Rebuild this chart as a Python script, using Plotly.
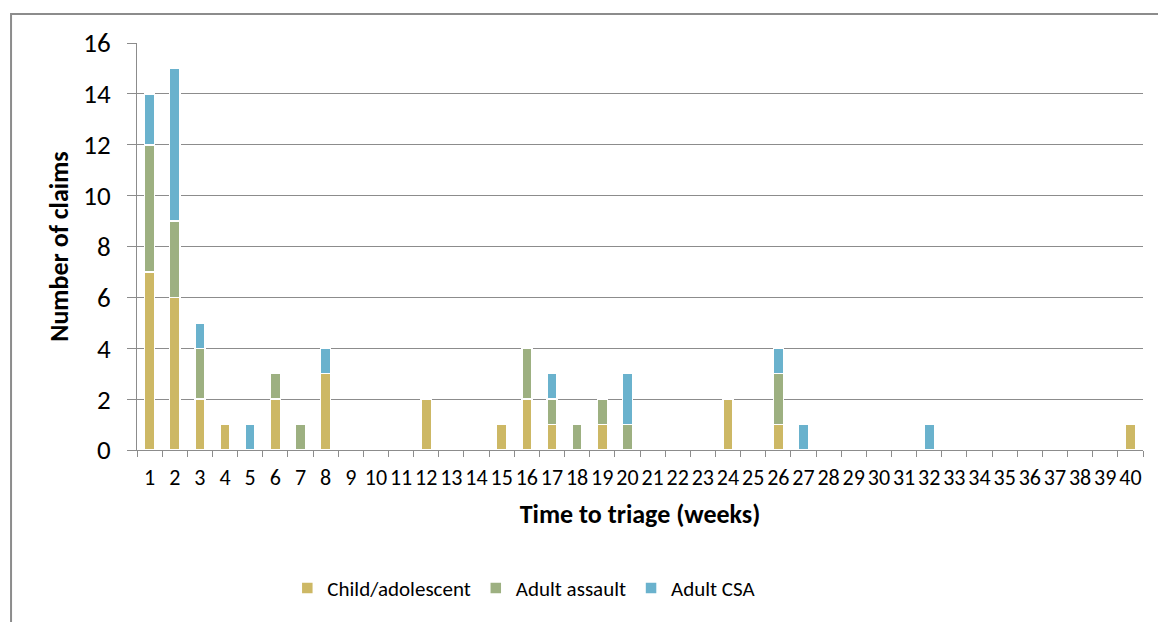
import plotly.graph_objects as go

weeks = [str(i) for i in range(1, 41)]
# values per week 1..40
child_adolescent = [7, 6, 2, 1, 0, 2, 0, 3, 0, 0, 0, 2, 0, 0, 1, 2, 1, 0, 1, 0,
                    0, 0, 0, 2, 0, 1, 0, 0, 0, 0, 0, 0, 0, 0, 0, 0, 0, 0, 0, 1]
adult_assault = [5, 3, 2, 0, 0, 1, 1, 0, 0, 0, 0, 0, 0, 0, 0, 2, 1, 1, 1, 1,
                 0, 0, 0, 0, 0, 2, 0, 0, 0, 0, 0, 0, 0, 0, 0, 0, 0, 0, 0, 0]
adult_csa = [2, 6, 1, 0, 1, 0, 0, 1, 0, 0, 0, 0, 0, 0, 0, 0, 1, 0, 0, 2,
             0, 0, 0, 0, 0, 1, 1, 0, 0, 0, 0, 1, 0, 0, 0, 0, 0, 0, 0, 0]
series_names = ["Child/adolescent", "Adult assault", "Adult CSA"]
series_colors = ["#CDB865", "#9DB081", "#6AB2CD"]

FONT = "Carlito, Lato, sans-serif"
GRID = "#8C8C8C"

fig = go.Figure()
for name, vals, col in zip(series_names, [child_adolescent, adult_assault, adult_csa], series_colors):
    fig.add_trace(go.Bar(
        x=weeks, y=[v if v else None for v in vals], name=name,
        marker=dict(color=col, line=dict(color="white", width=1.5)),
    ))

# outer frame (only left/top edges visible in the reference crop)
fig.add_shape(type="rect", xref="paper", yref="paper",
              x0=-0.1252, x1=1.3, y0=-1.0, y1=1.0713,
              line=dict(color=GRID, width=2), layer="below")

fig.update_layout(
    barmode="stack", bargap=0.6,
    width=1158, height=622,
    margin=dict(l=137, r=15, t=43, b=172),
    paper_bgcolor="white", plot_bgcolor="white",
    font=dict(family=FONT, color="#000000"),
    showlegend=True,
    legend=dict(orientation="h", x=0.385, xanchor="center", y=-0.34, yanchor="middle",
                font=dict(size=21, family=FONT), itemwidth=30, traceorder="normal"),
    xaxis=dict(
        type="category", tickson="boundaries", ticks="outside", ticklen=6,
        tickmode="linear", dtick=1,
        tickcolor=GRID, showline=True, linecolor=GRID, linewidth=1,
        showgrid=False, tickfont=dict(size=22, family=FONT), tickangle=0,
        ticklabelstandoff=8,
        title=dict(text="<b>Time to triage (weeks)</b>", font=dict(size=26, family=FONT), standoff=14),
        range=[-0.5, 39.5],
    ),
    yaxis=dict(
        range=[0, 16], dtick=2, ticks="outside", ticklen=9, tickcolor=GRID,
        showline=True, linecolor=GRID, linewidth=1,
        showgrid=True, gridcolor=GRID, gridwidth=1,
        tickfont=dict(size=27, family=FONT), ticklabelstandoff=11,
        zeroline=False,
        title=dict(text="<b>Number of claims</b>", font=dict(size=26, family=FONT), standoff=7),
    ),
)

fig.write_html("out.html")
